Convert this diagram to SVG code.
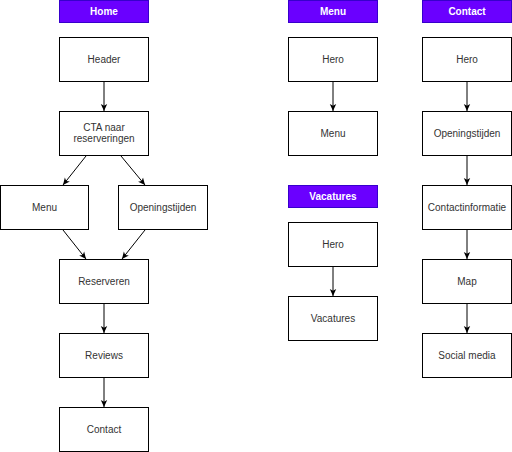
<svg xmlns="http://www.w3.org/2000/svg" width="512" height="452" viewBox="0 0 512 452">
<style>
.hdr rect{fill:#6a00ff;stroke:#3700cc;stroke-width:1}
.hdr text{fill:#ffffff;font-family:"Liberation Sans",Arial,sans-serif;font-size:10px;font-weight:bold;text-anchor:middle;dominant-baseline:central}
.box rect{fill:#ffffff;stroke:#000000;stroke-width:1}
.box text{fill:#333333;font-family:"Liberation Sans",Arial,sans-serif;font-size:10px;text-anchor:middle;dominant-baseline:central}
.edges line{stroke:#000000;stroke-width:1;marker-end:url(#arr)}
</style>
<defs>
<marker id="arr" markerWidth="8" markerHeight="8" viewBox="0 0 8 8" refX="7" refY="4" orient="auto" markerUnits="userSpaceOnUse">
<path d="M0,0.8 L7,4 L0,7.2 L1.8,4 Z" fill="#000000"/>
</marker>
</defs>
<rect width="512" height="452" fill="#ffffff"/>
<g id="h-home" class="hdr"><rect x="59.5" y="0.5" width="89" height="22"/><text x="104" y="11">Home</text></g>
<g id="h-menu" class="hdr"><rect x="288.5" y="0.5" width="89" height="22"/><text x="333" y="11">Menu</text></g>
<g id="h-contact" class="hdr"><rect x="422.5" y="0.5" width="89" height="22"/><text x="467" y="11">Contact</text></g>
<g id="h-vacatures" class="hdr"><rect x="288.5" y="185.5" width="89" height="22"/><text x="333" y="196">Vacatures</text></g>

<g id="home-header" class="box"><rect x="59.5" y="37.5" width="89" height="44"/><text x="104" y="59">Header</text></g>
<g id="home-cta" class="box"><rect x="59.5" y="111.5" width="89" height="44"/><text x="104" y="127.5">CTA naar</text><text x="104" y="138.5">reserveringen</text></g>
<g id="home-menu" class="box"><rect x="0.5" y="185.5" width="88" height="44"/><text x="44.5" y="207">Menu</text></g>
<g id="home-open" class="box"><rect x="118.5" y="185.5" width="89" height="44"/><text x="163" y="207">Openingstijden</text></g>
<g id="home-res" class="box"><rect x="59.5" y="259.5" width="89" height="44"/><text x="104" y="281">Reserveren</text></g>
<g id="home-reviews" class="box"><rect x="59.5" y="333.5" width="89" height="44"/><text x="104" y="355">Reviews</text></g>
<g id="home-contact" class="box"><rect x="59.5" y="407.5" width="89" height="44"/><text x="104" y="429">Contact</text></g>

<g id="menu-hero" class="box"><rect x="288.5" y="37.5" width="89" height="44"/><text x="333" y="59">Hero</text></g>
<g id="menu-menu" class="box"><rect x="288.5" y="111.5" width="89" height="44"/><text x="333" y="133">Menu</text></g>
<g id="vac-hero" class="box"><rect x="288.5" y="222.5" width="89" height="44"/><text x="333" y="244">Hero</text></g>
<g id="vac-vac" class="box"><rect x="288.5" y="296.5" width="89" height="44"/><text x="333" y="318">Vacatures</text></g>

<g id="con-hero" class="box"><rect x="422.5" y="37.5" width="89" height="44"/><text x="467" y="59">Hero</text></g>
<g id="con-open" class="box"><rect x="422.5" y="111.5" width="89" height="44"/><text x="467" y="133">Openingstijden</text></g>
<g id="con-info" class="box"><rect x="422.5" y="185.5" width="89" height="44"/><text x="467" y="207">Contactinformatie</text></g>
<g id="con-map" class="box"><rect x="422.5" y="259.5" width="89" height="44"/><text x="467" y="281">Map</text></g>
<g id="con-social" class="box"><rect x="422.5" y="333.5" width="89" height="44"/><text x="467" y="355">Social media</text></g>

<g id="connectors" class="edges">
<line x1="104" y1="82" x2="104" y2="111"/>
<line x1="86" y1="156" x2="63" y2="185"/>
<line x1="121" y1="156" x2="145" y2="185"/>
<line x1="63" y1="230" x2="86" y2="259"/>
<line x1="145" y1="230" x2="122" y2="259"/>
<line x1="104" y1="304" x2="104" y2="333"/>
<line x1="104" y1="378" x2="104" y2="407"/>
<line x1="333" y1="82" x2="333" y2="111"/>
<line x1="333" y1="267" x2="333" y2="296"/>
<line x1="467" y1="82" x2="467" y2="111"/>
<line x1="467" y1="156" x2="467" y2="185"/>
<line x1="467" y1="230" x2="467" y2="259"/>
<line x1="467" y1="304" x2="467" y2="333"/>
</g>
</svg>
